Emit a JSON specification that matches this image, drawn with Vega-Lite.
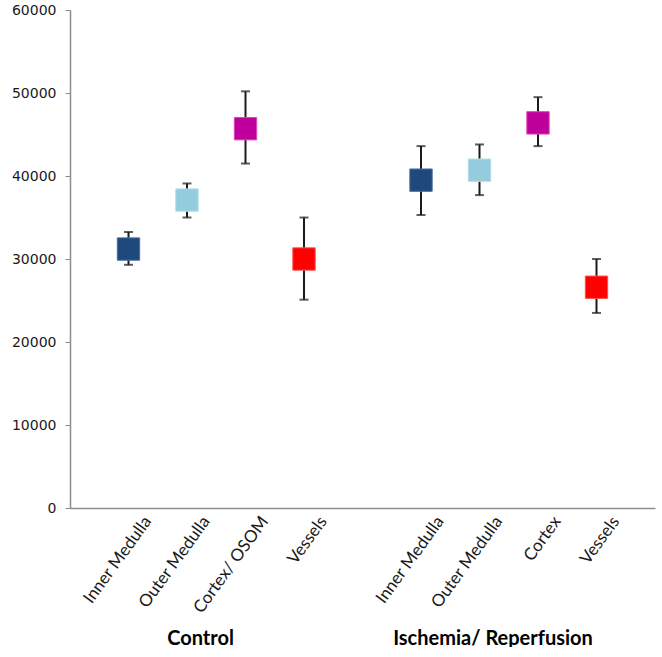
{
  "$schema": "https://vega.github.io/schema/vega-lite/v6.json",
  "autosize": "none",
  "padding": {"left": 70, "top": 10, "right": 7, "bottom": 139},
  "width": 585,
  "height": 498,
  "background": "white",
  "config": {"view": {"stroke": null}},
  "data": {
    "values": [
      {"group": "Control", "tissue": "Inner Medulla", "key": "C|Inner Medulla", "mean": 31200, "lo": 29300, "hi": 33250},
      {"group": "Control", "tissue": "Outer Medulla", "key": "C|Outer Medulla", "mean": 37100, "lo": 35000, "hi": 39100},
      {"group": "Control", "tissue": "Cortex/ OSOM", "key": "C|Cortex/ OSOM", "mean": 45700, "lo": 41500, "hi": 50200},
      {"group": "Control", "tissue": "Vessels", "key": "C|Vessels", "mean": 30000, "lo": 25100, "hi": 35000},
      {"group": "Ischemia/ Reperfusion", "tissue": "Inner Medulla", "key": "IR|Inner Medulla", "mean": 39500, "lo": 35300, "hi": 43600},
      {"group": "Ischemia/ Reperfusion", "tissue": "Outer Medulla", "key": "IR|Outer Medulla", "mean": 40700, "lo": 37700, "hi": 43800},
      {"group": "Ischemia/ Reperfusion", "tissue": "Cortex", "key": "IR|Cortex", "mean": 46400, "lo": 43600, "hi": 49500},
      {"group": "Ischemia/ Reperfusion", "tissue": "Vessels", "key": "IR|Vessels", "mean": 26600, "lo": 23500, "hi": 30000}
    ]
  },
  "encoding": {
    "x": {
      "field": "key",
      "type": "nominal",
      "axis": null,
      "scale": {
        "type": "point",
        "domain": ["C|Inner Medulla", "C|Outer Medulla", "C|Cortex/ OSOM", "C|Vessels", " ", "IR|Inner Medulla", "IR|Outer Medulla", "IR|Cortex", "IR|Vessels"],
        "padding": 1
      }
    }
  },
  "layer": [
    {
      "mark": {"type": "rule", "color": "#1a1a1a", "strokeWidth": 2},
      "encoding": {
        "x": {
          "field": "key",
          "type": "nominal",
          "axis": {
            "orient": "bottom",
            "values": ["C|Inner Medulla", "C|Outer Medulla", "C|Cortex/ OSOM", "C|Vessels", "IR|Inner Medulla", "IR|Outer Medulla", "IR|Cortex", "IR|Vessels"],
            "labelExpr": "split(datum.value, '|')[1]",
            "title": null,
            "labelAngle": -54,
            "labelAlign": "right",
            "labelBaseline": "middle",
            "labelFont": "Lato",
            "labelFontSize": 17,
            "labelColor": "#1a1a1a",
            "labelPadding": 10,
            "labelOffset": 19,
            "labelLimit": 0,
            "ticks": false,
            "domainColor": "#8c8c8c",
            "domainWidth": 1.5,
            "grid": false
          }
        },
        "y": {
          "field": "lo",
          "type": "quantitative",
          "title": null,
          "scale": {"domain": [0, 60000], "nice": false},
          "axis": {
            "values": [0, 10000, 20000, 30000, 40000, 50000, 60000],
            "grid": false,
            "labelFont": "DejaVu Sans",
            "labelFontSize": 14,
            "labelColor": "#1a1a1a",
            "labelPadding": 9,
            "tickSize": 5,
            "tickColor": "#8c8c8c",
            "domainColor": "#8c8c8c",
            "domainWidth": 1.5,
            "format": "d"
          }
        },
        "y2": {"field": "hi"}
      }
    },
    {
      "mark": {"type": "tick", "color": "#1a1a1a", "thickness": 2, "size": 9},
      "encoding": {"y": {"field": "lo", "type": "quantitative", "title": null}}
    },
    {
      "mark": {"type": "tick", "color": "#1a1a1a", "thickness": 2, "size": 9},
      "encoding": {"y": {"field": "hi", "type": "quantitative", "title": null}}
    },
    {
      "mark": {"type": "point", "shape": "square", "filled": true, "size": 500, "opacity": 1, "strokeWidth": 1},
      "encoding": {
        "y": {"field": "mean", "type": "quantitative", "title": null},
        "color": {
          "field": "tissue",
          "type": "nominal",
          "scale": {
            "domain": ["Inner Medulla", "Outer Medulla", "Cortex/ OSOM", "Cortex", "Vessels"],
            "range": ["#1f497d", "#93cddd", "#c0009a", "#c0009a", "#ff0000"]
          },
          "legend": null
        },
        "stroke": {
          "field": "tissue",
          "type": "nominal",
          "scale": {
            "domain": ["Inner Medulla", "Outer Medulla", "Cortex/ OSOM", "Cortex", "Vessels"],
            "range": ["#4a6fa0", "#b5dde8", "#e040c0", "#e040c0", "#ff5050"]
          },
          "legend": null
        }
      }
    },
    {
      "mark": {"type": "point", "opacity": 0},
      "encoding": {
        "x": {
          "field": "key",
          "type": "nominal",
          "axis": {
            "orient": "bottom",
            "values": ["C|Outer Medulla", "IR|Outer Medulla"],
            "labelExpr": "datum.value == 'C|Outer Medulla' ? 'Control' : 'Ischemia/ Reperfusion'",
            "title": null,
            "labelAngle": 0,
            "labelAlign": "center",
            "labelBaseline": "top",
            "labelFont": "Lato",
            "labelFontWeight": "bold",
            "labelFontSize": 20,
            "labelColor": "#000000",
            "labelOffset": 13,
            "labelPadding": 0,
            "labelLimit": 0,
            "offset": 120,
            "domain": false,
            "ticks": false,
            "grid": false
          }
        },
        "y": {"field": "mean", "type": "quantitative", "title": null}
      }
    }
  ],
  "resolve": {"axis": {"x": "independent"}}
}
